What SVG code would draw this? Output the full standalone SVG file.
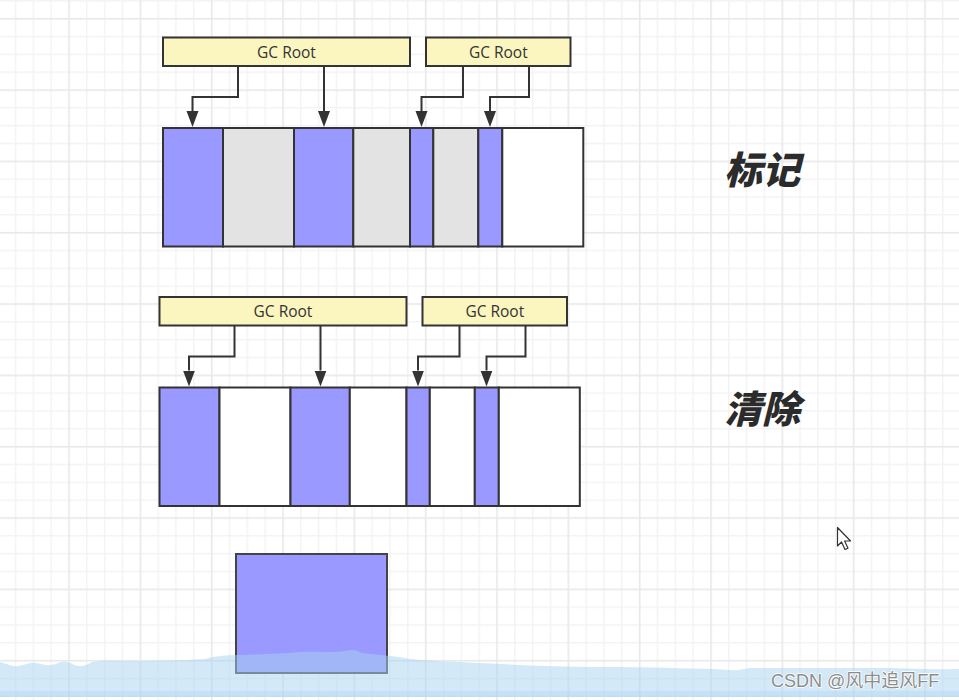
<svg xmlns="http://www.w3.org/2000/svg" width="959" height="700" viewBox="0 0 959 700">
  <defs>
    <pattern id="grid" patternUnits="userSpaceOnUse" x="-3.1" y="-53.4" width="71.33" height="71.33">
      <rect x="17.83" y="0" width="1.5" height="71.33" fill="#f3f3f3"/>
      <rect x="35.67" y="0" width="1.5" height="71.33" fill="#f3f3f3"/>
      <rect x="53.5" y="0" width="1.5" height="71.33" fill="#f3f3f3"/>
      <rect x="0" y="17.83" width="71.33" height="1.5" fill="#f3f3f3"/>
      <rect x="0" y="35.67" width="71.33" height="1.5" fill="#f3f3f3"/>
      <rect x="0" y="53.5" width="71.33" height="1.5" fill="#f3f3f3"/>
      <rect x="0" y="0" width="1.6" height="71.33" fill="#e8e8e8"/>
      <rect x="0" y="0" width="71.33" height="1.6" fill="#e8e8e8"/>
    </pattern>
    <marker id="arrow" markerUnits="userSpaceOnUse" markerWidth="14" markerHeight="17" refX="7" refY="0" orient="0">
      <path d="M1,0 L13,0 L7,16 z" fill="#333"/>
    </marker>
    <style>
      .gc { fill: #fbf6c0; stroke: #333; stroke-width: 2; }
      .gct { font-family: "Open Sans", "Liberation Sans", sans-serif; font-size: 15.5px; fill: #333; text-anchor: middle; }
      .cell { stroke: #333; stroke-width: 2; }
      .live { fill: #9999ff; }
      .dead { fill: #e3e3e3; }
      .free { fill: #ffffff; }
      .conn { fill: none; stroke: #333; stroke-width: 2; }
      .title { font-family: "Noto Sans CJK SC", sans-serif; font-size: 38px; font-weight: 900; font-style: italic; fill: #2b2b2b; text-anchor: middle; }
    </style>
  </defs>

  <rect x="0" y="0" width="959" height="700" fill="#ffffff"/>
  <rect x="0" y="0" width="959" height="700" fill="url(#grid)"/>

  <!-- Top: mark phase -->
  <g id="gcroot-mark-1">
    <rect class="gc" x="163" y="37.5" width="247" height="28.5"/>
    <text class="gct" x="286.5" y="57.5">GC Root</text>
  </g>
  <g id="gcroot-mark-2">
    <rect class="gc" x="426" y="37.5" width="144.5" height="28.5"/>
    <text class="gct" x="498.3" y="57.5">GC Root</text>
  </g>
  <g id="heap-mark">
    <rect class="cell live" x="163" y="128" width="60" height="118.5"/>
    <rect class="cell dead" x="223" y="128" width="71" height="118.5"/>
    <rect class="cell live" x="294" y="128" width="59.3" height="118.5"/>
    <rect class="cell dead" x="353.3" y="128" width="56.7" height="118.5"/>
    <rect class="cell live" x="410" y="128" width="23.3" height="118.5"/>
    <rect class="cell dead" x="433.3" y="128" width="45" height="118.5"/>
    <rect class="cell live" x="478.3" y="128" width="24" height="118.5"/>
    <rect class="cell free" x="502.3" y="128" width="81" height="118.5"/>
  </g>
  <g id="label-mark">
    <text class="title" x="762" y="184">标记</text>
  </g>

  <!-- Middle: sweep phase -->
  <g id="gcroot-sweep-1">
    <rect class="gc" x="159.5" y="297" width="247" height="28.5"/>
    <text class="gct" x="283" y="317">GC Root</text>
  </g>
  <g id="gcroot-sweep-2">
    <rect class="gc" x="422.5" y="297" width="144.5" height="28.5"/>
    <text class="gct" x="494.8" y="317">GC Root</text>
  </g>
  <g id="heap-sweep">
    <rect class="cell live" x="159.5" y="387.5" width="60" height="118.5"/>
    <rect class="cell free" x="219.5" y="387.5" width="71" height="118.5"/>
    <rect class="cell live" x="290.5" y="387.5" width="59.3" height="118.5"/>
    <rect class="cell free" x="349.8" y="387.5" width="56.7" height="118.5"/>
    <rect class="cell live" x="406.5" y="387.5" width="23.3" height="118.5"/>
    <rect class="cell free" x="429.8" y="387.5" width="45" height="118.5"/>
    <rect class="cell live" x="474.8" y="387.5" width="24" height="118.5"/>
    <rect class="cell free" x="498.8" y="387.5" width="81" height="118.5"/>
  </g>
  <g id="label-sweep">
    <text class="title" x="762" y="423">清除</text>
  </g>

  <g id="connectors">
    <path class="conn" d="M238 66 V97 H192.5 V111" marker-end="url(#arrow)"/>
    <path class="conn" d="M324 66 V111" marker-end="url(#arrow)"/>
    <path class="conn" d="M463 66 V97 H421.5 V111" marker-end="url(#arrow)"/>
    <path class="conn" d="M529 66 V97 H490 V111" marker-end="url(#arrow)"/>
    <path class="conn" d="M234.5 325.5 V356.5 H189 V370.5" marker-end="url(#arrow)"/>
    <path class="conn" d="M320.5 325.5 V370.5" marker-end="url(#arrow)"/>
    <path class="conn" d="M459.5 325.5 V356.5 H418 V370.5" marker-end="url(#arrow)"/>
    <path class="conn" d="M525.5 325.5 V356.5 H486.5 V370.5" marker-end="url(#arrow)"/>
  </g>

  <!-- Bottom block -->
  <g id="block">
    <rect x="236" y="554" width="151" height="119" fill="#9999ff" stroke="#444" stroke-width="2"/>
  </g>

  <!-- Cursor -->
  <path d="M837.5,527.5 L837.5,546 L841.5,542 L845,549.5 L848,548.2 L844.6,541 L850.5,541 Z" fill="#fff" stroke="#333" stroke-width="1.2" stroke-linejoin="round"/>

  <!-- Watermark wave -->
  <path d="M0,662 C8,664 12,667 18,666 C26,665 30,662 36,663 C44,665 50,666 56,664 C62,661 68,661 74,665 C80,667 86,666 92,662 C104,660 118,661 130,661 C160,661 190,660 205,659 C215,656 225,655 240,655 C262,654 280,654 300,652 C320,651 330,653 345,651 C352,649 356,650 362,653 C380,655 395,656 410,659 C430,661 460,662 500,664 C540,666 580,667 620,667 C660,668 700,668 730,670 C738,671 742,669 750,668 C790,668 840,668 880,668 C910,668 930,670 959,669 L959,697 L0,697 Z" fill="#a8d4f0" fill-opacity="0.5"/>
  <rect x="0" y="691" width="959" height="6" fill="#a8d4f0" fill-opacity="0.35"/>
  <text x="771" y="687" font-family="Liberation Sans, 'Noto Sans CJK SC', sans-serif" font-size="18" fill="#8c8c8c" stroke="#ffffff" stroke-width="1.5" paint-order="stroke">CSDN @风中追风FF</text>
</svg>
